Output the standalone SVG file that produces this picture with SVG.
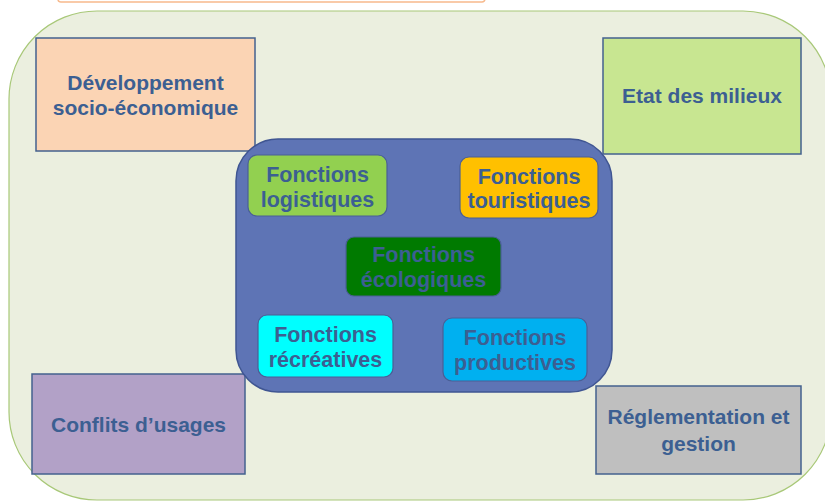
<svg xmlns="http://www.w3.org/2000/svg" width="825" height="502" viewBox="0 0 825 502">
<style>
.t{font-family:"Liberation Sans",Arial,sans-serif;font-weight:bold;fill:#3C5F92;text-anchor:middle}
.o{font-size:21px}
.i{font-size:21.5px}
.box{stroke:#44628F;stroke-width:1.5}
.ib{stroke:#4A5F96;stroke-width:1.2}
</style>
<rect x="0" y="0" width="825" height="502" fill="#FFFFFF"/>
<rect x="58" y="-20" width="427" height="22" rx="3" fill="#FFFFFF" stroke="#F7B98C" stroke-width="1.5"/>
<rect id="frame" x="9" y="11" width="822" height="489" rx="88" fill="#EBEFDF" stroke="#A8C878" stroke-width="1.2"/>
<g id="dev"><rect class="box" x="36" y="38" width="219" height="113" fill="#FBD4B4"/><text class="t o" x="145.5" y="90">Développement</text><text class="t o" x="145.5" y="115">socio-économique</text></g>
<g id="etat"><rect class="box" x="603" y="38" width="198" height="116" fill="#C8E691"/><text class="t o" x="702" y="103">Etat des milieux</text></g>
<g id="conflits"><rect class="box" x="32" y="374" width="213" height="100" fill="#B2A1C7"/><text class="t o" x="138.5" y="432">Conflits d’usages</text></g>
<g id="regl"><rect class="box" x="596" y="386" width="205" height="88" fill="#BFBFBF"/><text class="t o" x="698.5" y="424">Réglementation et</text><text class="t o" x="698.5" y="451">gestion</text></g>
<g id="fonctions"><rect x="236" y="139" width="376" height="253" rx="42" fill="#5E74B5" stroke="#3F5592" stroke-width="1.5"/></g>
<g id="logistiques"><rect class="ib" x="248" y="155" width="139" height="61" rx="9" fill="#92D050"/><text class="t i" x="317.5" y="182">Fonctions</text><text class="t i" x="317.5" y="207">logistiques</text></g>
<g id="touristiques"><rect class="ib" x="460" y="157" width="138" height="61" rx="9" fill="#FFC000"/><text class="t i" x="529" y="183.5">Fonctions</text><text class="t i" x="529" y="208">touristiques</text></g>
<g id="ecologiques"><rect class="ib" x="346" y="237" width="155" height="59" rx="8" fill="#007A00"/><text class="t i" x="423.5" y="262">Fonctions</text><text class="t i" x="423.5" y="287">écologiques</text></g>
<g id="recreatives"><rect class="ib" x="258" y="315" width="135" height="62" rx="9" fill="#00FFFF"/><text class="t i" x="325.5" y="342">Fonctions</text><text class="t i" x="325.5" y="367">récréatives</text></g>
<g id="productives"><rect class="ib" x="443" y="318" width="144" height="63" rx="9" fill="#00B0F0"/><text class="t i" x="515" y="345">Fonctions</text><text class="t i" x="515" y="370">productives</text></g>
<g id="connectors"></g>
</svg>
